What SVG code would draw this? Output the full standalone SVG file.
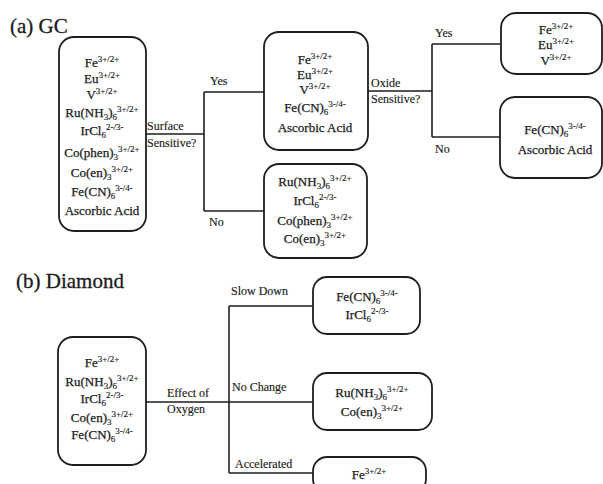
<svg xmlns="http://www.w3.org/2000/svg" width="603" height="484" viewBox="0 0 603 484">
<style>
.box{fill:#fff;stroke:#1e1e1e;stroke-width:1.8}
.ln{fill:none;stroke:#1e1e1e;stroke-width:1.6}
text{font-family:"Liberation Serif","Times New Roman",serif;fill:#1a1a1a;stroke:#1a1a1a;stroke-width:0.25}
.t{font-size:13px;text-anchor:middle}
.lb{font-size:12px;stroke-width:0.15}
.ti{font-size:21px;stroke-width:0.3}
.sp{font-size:9px;stroke-width:0.15}
</style>
<rect width="603" height="484" fill="#fff"/>
<text class="ti" x="10" y="33">(a) GC</text>
<text class="ti" x="16" y="288">(b) Diamond</text>

<g id="connectors">
<path class="ln" d="M146,134 H204 M204,92 V211 M204,92 H264 M204,211 H264"/>
<path class="ln" d="M368,91 H432 M432,44 V137 M432,44 H501 M432,137 H501"/>
<path class="ln" d="M146,402 H229 M229,306 V473 M229,306 H313 M229,402 H313 M229,473 H313"/>
<text class="lb" x="147" y="130">Surface</text>
<text class="lb" x="147" y="147">Sensitive?</text>
<text class="lb" x="210" y="85">Yes</text>
<text class="lb" x="209" y="226">No</text>
<text class="lb" x="371" y="87">Oxide</text>
<text class="lb" x="371" y="103">Sensitive?</text>
<text class="lb" x="435" y="37">Yes</text>
<text class="lb" x="435" y="153">No</text>
<text class="lb" x="167" y="397">Effect of</text>
<text class="lb" x="167" y="413">Oxygen</text>
<text class="lb" x="231" y="295">Slow Down</text>
<text class="lb" x="232" y="391">No Change</text>
<text class="lb" x="235" y="468">Accelerated</text>
</g>

<g id="gc-all">
<rect class="box" x="59" y="37" width="87" height="194" rx="15"/>
<text class="t" x="102" y="67">Fe<tspan class="sp" dy="-5">3+/2+</tspan></text>
<text class="t" x="102" y="83">Eu<tspan class="sp" dy="-5">3+/2+</tspan></text>
<text class="t" x="102" y="99">V<tspan class="sp" dy="-5">3+/2+</tspan></text>
<text class="t" x="102" y="117">Ru(NH<tspan class="sp" dy="3">3</tspan><tspan dy="-3">)</tspan><tspan class="sp" dy="3">6</tspan><tspan class="sp" dy="-8">3+/2+</tspan></text>
<text class="t" x="102" y="135">IrCl<tspan class="sp" dy="3">6</tspan><tspan class="sp" dy="-8">2-/3-</tspan></text>
<text class="t" x="102" y="157">Co(phen)<tspan class="sp" dy="3">3</tspan><tspan class="sp" dy="-8">3+/2+</tspan></text>
<text class="t" x="102" y="177">Co(en)<tspan class="sp" dy="3">3</tspan><tspan class="sp" dy="-8">3+/2+</tspan></text>
<text class="t" x="102" y="196">Fe(CN)<tspan class="sp" dy="3">6</tspan><tspan class="sp" dy="-8">3-/4-</tspan></text>
<text class="t" x="102" y="215">Ascorbic Acid</text>
</g>

<g id="gc-surface-sensitive">
<rect class="box" x="264" y="32" width="104" height="118" rx="15"/>
<text class="t" x="315" y="64">Fe<tspan class="sp" dy="-5">3+/2+</tspan></text>
<text class="t" x="315" y="79">Eu<tspan class="sp" dy="-5">3+/2+</tspan></text>
<text class="t" x="315" y="94">V<tspan class="sp" dy="-5">3+/2+</tspan></text>
<text class="t" x="315" y="112">Fe(CN)<tspan class="sp" dy="3">6</tspan><tspan class="sp" dy="-8">3-/4-</tspan></text>
<text class="t" x="315" y="132">Ascorbic Acid</text>
</g>

<g id="gc-not-sensitive">
<rect class="box" x="264" y="164" width="103" height="94" rx="15"/>
<text class="t" x="315" y="186">Ru(NH<tspan class="sp" dy="3">3</tspan><tspan dy="-3">)</tspan><tspan class="sp" dy="3">6</tspan><tspan class="sp" dy="-8">3+/2+</tspan></text>
<text class="t" x="315" y="205">IrCl<tspan class="sp" dy="3">6</tspan><tspan class="sp" dy="-8">2-/3-</tspan></text>
<text class="t" x="315" y="225">Co(phen)<tspan class="sp" dy="3">3</tspan><tspan class="sp" dy="-8">3+/2+</tspan></text>
<text class="t" x="315" y="243">Co(en)<tspan class="sp" dy="3">3</tspan><tspan class="sp" dy="-8">3+/2+</tspan></text>
</g>

<g id="gc-oxide-sensitive">
<rect class="box" x="501" y="13" width="101" height="61" rx="15"/>
<text class="t" x="556" y="34">Fe<tspan class="sp" dy="-5">3+/2+</tspan></text>
<text class="t" x="556" y="49">Eu<tspan class="sp" dy="-5">3+/2+</tspan></text>
<text class="t" x="556" y="65">V<tspan class="sp" dy="-5">3+/2+</tspan></text>
</g>

<g id="gc-oxide-insensitive">
<rect class="box" x="500" y="97" width="102" height="81" rx="15"/>
<text class="t" x="555" y="134">Fe(CN)<tspan class="sp" dy="3">6</tspan><tspan class="sp" dy="-8">3-/4-</tspan></text>
<text class="t" x="555" y="154">Ascorbic Acid</text>
</g>

<g id="diamond-all">
<rect class="box" x="58" y="337" width="88" height="128" rx="15"/>
<text class="t" x="102" y="367">Fe<tspan class="sp" dy="-5">3+/2+</tspan></text>
<text class="t" x="102" y="386">Ru(NH<tspan class="sp" dy="3">3</tspan><tspan dy="-3">)</tspan><tspan class="sp" dy="3">6</tspan><tspan class="sp" dy="-8">3+/2+</tspan></text>
<text class="t" x="102" y="403">IrCl<tspan class="sp" dy="3">6</tspan><tspan class="sp" dy="-8">2-/3-</tspan></text>
<text class="t" x="102" y="422">Co(en)<tspan class="sp" dy="3">3</tspan><tspan class="sp" dy="-8">3+/2+</tspan></text>
<text class="t" x="102" y="439">Fe(CN)<tspan class="sp" dy="3">6</tspan><tspan class="sp" dy="-8">3-/4-</tspan></text>
</g>

<g id="diamond-slow">
<rect class="box" x="313" y="277" width="107" height="57" rx="14"/>
<text class="t" x="367" y="301">Fe(CN)<tspan class="sp" dy="3">6</tspan><tspan class="sp" dy="-8">3-/4-</tspan></text>
<text class="t" x="367" y="319">IrCl<tspan class="sp" dy="3">6</tspan><tspan class="sp" dy="-8">2-/3-</tspan></text>
</g>

<g id="diamond-nochange">
<rect class="box" x="313" y="373" width="119" height="57" rx="14"/>
<text class="t" x="372" y="397">Ru(NH<tspan class="sp" dy="3">3</tspan><tspan dy="-3">)</tspan><tspan class="sp" dy="3">6</tspan><tspan class="sp" dy="-8">3+/2+</tspan></text>
<text class="t" x="372" y="416">Co(en)<tspan class="sp" dy="3">3</tspan><tspan class="sp" dy="-8">3+/2+</tspan></text>
</g>

<g id="diamond-accel">
<rect class="box" x="313" y="457" width="113" height="36" rx="14"/>
<text class="t" x="369" y="479">Fe<tspan class="sp" dy="-5">3+/2+</tspan></text>
</g>
</svg>
